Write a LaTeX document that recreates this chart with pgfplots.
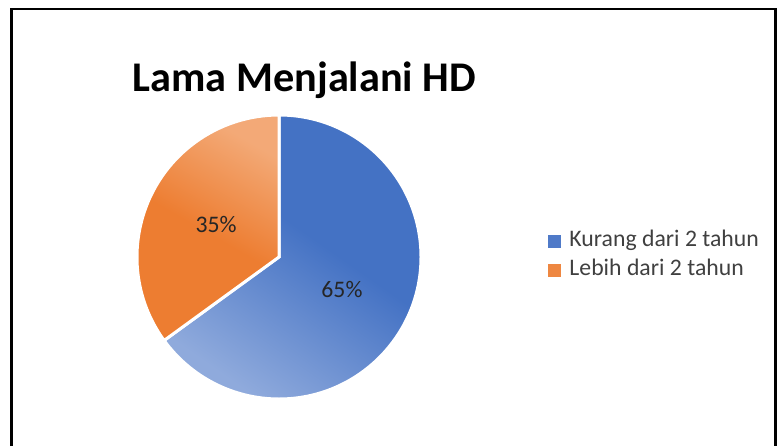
\documentclass[border=0pt]{standalone}
\usepackage{pgfplots}
\usepackage{pgfplotstable}
\pgfplotsset{compat=1.18}
\usetikzlibrary{calc}
\usepackage{fontspec}
\setmainfont{Carlito}

\definecolor{blueD}{HTML}{4472C4}
\definecolor{blueL}{HTML}{8FAADC}
\definecolor{orangeD}{HTML}{ED7D31}
\definecolor{orangeL}{HTML}{F4B183}
\definecolor{txt}{HTML}{404040}
\definecolor{lbl}{HTML}{262626}

% orange: light only toward the upper part
\pgfdeclareverticalshading{orsh}{100bp}{color(0bp)=(orangeD); color(25bp)=(orangeD); color(50bp)=(orangeD); color(75bp)=(orangeL!85!orangeD); color(100bp)=(orangeL!85!orangeD)}
\pgfdeclareverticalshading{blsh}{100bp}{color(0bp)=(blueL); color(25bp)=(blueL); color(55bp)=(blueD); color(75bp)=(blueD); color(100bp)=(blueD)}

% share (%) per category
\pgfplotstableread{
cat value
Kurang 65
Lebih 35
}\piedata

\begin{document}
\begin{tikzpicture}
\pgfplotstablegetelem{0}{value}\of\piedata \let\vA\pgfplotsretval
\pgfplotstablegetelem{1}{value}\of\piedata \let\vB\pgfplotsretval
\pgfmathsetmacro{\aEnd}{90-3.6*\vA}
\pgfmathsetmacro{\bEnd}{\aEnd-3.6*\vB}
\pgfmathsetmacro{\aMid}{90-1.8*\vA}
\pgfmathsetmacro{\bMid}{\aEnd-1.8*\vB}
\def\R{106.5pt}% 142 px
\def\Rl{53pt}% label radius
\begin{axis}[
    scale only axis, width=582.75pt, height=334.5pt,
    xmin=0, xmax=777, ymin=0, ymax=446,
    hide axis, clip=false,
    legend style={at={(0.7053,0.4267)}, anchor=west, draw=none, fill=none,
        font=\fontsize{17.8pt}{20pt}\selectfont\color{txt},
        inner sep=0pt, row sep=5.75pt,
        nodes={inner sep=0pt, text height=12pt, text depth=4pt}},
    legend cell align=left,
]
% canvas and frame
\path (axis cs:0,0) rectangle (axis cs:777,446);
\draw[black, line width=1.9pt] (axis cs:11.5,0) -- (axis cs:11.5,437) -- (axis cs:775.5,437) -- (axis cs:775.5,0);

% slices
\shadedraw[draw=white, line width=2.25pt, shading=blsh, shading angle=-35]
  (axis cs:279,189) -- +(90:\R) arc[start angle=90, end angle=\aEnd, radius=\R] -- cycle;
\shadedraw[draw=white, line width=2.25pt, shading=orsh, shading angle=-30]
  (axis cs:279,189) -- +(\aEnd:\R) arc[start angle=\aEnd, end angle=\bEnd, radius=\R] -- cycle;

% data labels
\node[font=\fontsize{17.8pt}{20pt}\selectfont, text=lbl] at ($(axis cs:279,189)+(\aMid:\Rl)$) {\vA\%};
\node[font=\fontsize{17.8pt}{20pt}\selectfont, text=lbl] at ($(axis cs:279,189)+(\bMid:\Rl)$) {\vB\%};

% title
\node[anchor=base, font=\bfseries\fontsize{31.7pt}{36pt}\selectfont] at (axis cs:304.5,354) {Lama Menjalani HD};

\addlegendimage{legend image code/.code={\fill[blueD!85!blueL] (0pt,-4.5pt) rectangle (9pt,4.5pt); \path (15.5pt,0pt);}}
\addlegendentry{Kurang dari 2 tahun}
\addlegendimage{legend image code/.code={\fill[orangeD!80!orangeL] (0pt,-4.5pt) rectangle (9pt,4.5pt); \path (15.5pt,0pt);}}
\addlegendentry{Lebih dari 2 tahun}
\end{axis}
\end{tikzpicture}
\end{document}
